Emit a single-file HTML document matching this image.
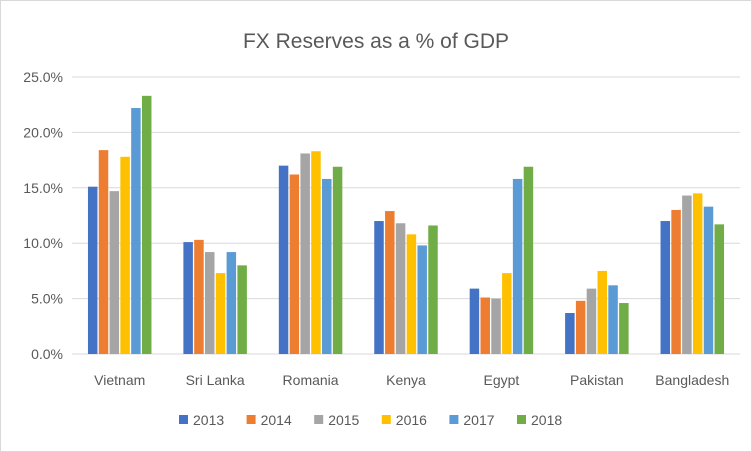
<!DOCTYPE html>
<html><head><meta charset="utf-8"><style>
body{margin:0;background:#fff}
svg{display:block;font-family:"Liberation Sans",sans-serif}
</style></head><body>
<svg id="c" width="752" height="452">
<rect x="0.5" y="0.5" width="751" height="451" fill="#fff" stroke="#d9d9d9"/>
<text x="376" y="48" text-anchor="middle" font-size="21" fill="#595959">FX Reserves as a % of GDP</text>
<g id="grid"></g><g id="bars"></g><g id="legend"></g>
</svg>
<script>
const categories=["Vietnam","Sri Lanka","Romania","Kenya","Egypt","Pakistan","Bangladesh"];
const years=["2013","2014","2015","2016","2017","2018"];
const colors=["#4472C4","#ED7D31","#A5A5A5","#FFC000","#5B9BD5","#70AD47"];
const s2013=[15.1,10.1,17.0,12.0,5.9,3.7,12.0];
const s2014=[18.4,10.3,16.2,12.9,5.1,4.8,13.0];
const s2015=[14.7,9.2,18.1,11.8,5.0,5.9,14.3];
const s2016=[17.8,7.3,18.3,10.8,7.3,7.5,14.5];
const s2017=[22.2,9.2,15.8,9.8,15.8,6.2,13.3];
const s2018=[23.3,8.0,16.9,11.6,16.9,4.6,11.7];
const series=[s2013,s2014,s2015,s2016,s2017,s2018];
const ticks=[0,5,10,15,20,25];
const NS="http://www.w3.org/2000/svg";
const x0=72,x1=740,y0=354,yTop=77,maxV=25;
const yS=v=>y0-(v/maxV)*(y0-yTop);
const gw=(x1-x0)/categories.length;
function mk(t,a,p){const e=document.createElementNS(NS,t);for(const k in a)e.setAttribute(k,a[k]);p.appendChild(e);return e;}
const grid=document.getElementById('grid');
ticks.forEach(t=>{
 const l=mk('line',{x1:x0,x2:x1,y1:yS(t),y2:yS(t),stroke:'#d9d9d9'},grid);
 
 
 const tx=mk('text',{x:63,y:yS(t)+5,'text-anchor':'end','font-size':14,fill:'#595959'},grid);
 tx.textContent=t.toFixed(1)+'%';
 
 
});
const bars=document.getElementById('bars');
const bw=9.5,gap=1.3;
categories.forEach((c,i)=>{
 const cx=x0+gw*(i+0.5);
 const start=cx-(series.length*bw+(series.length-1)*gap)/2;
 series.forEach((s,j)=>{
  const r=mk('rect',{x:start+j*(bw+gap),y:yS(s[i]),width:bw,height:y0-yS(s[i]),fill:colors[j]},bars);
  
  
 });
 const tx=mk('text',{x:cx,y:385,'text-anchor':'middle','font-size':14,fill:'#595959'},bars);
 tx.textContent=c;
 
 
});
const lg=document.getElementById('legend');
years.forEach((y,j)=>{
 const lx=179+j*67.6;
 const r=mk('rect',{x:lx,y:415,width:9,height:9,fill:colors[j]},lg);
 
 
 const tx=mk('text',{x:lx+14,y:425,'font-size':14,fill:'#595959'},lg);
 tx.textContent=y;
 
 
});
</script>
</body></html>
